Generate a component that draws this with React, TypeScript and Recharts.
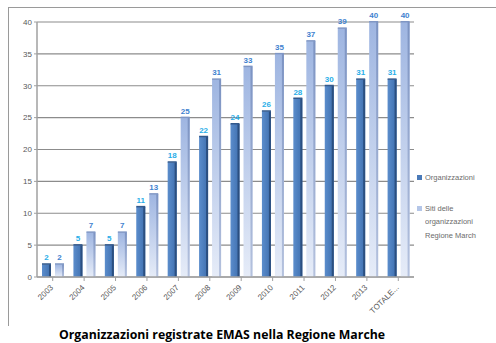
import React from "react";
import {
  BarChart,
  Bar,
  XAxis,
  YAxis,
  CartesianGrid,
  LabelList,
} from "recharts";

const categories = ["2003", "2004", "2005", "2006", "2007", "2008", "2009", "2010", "2011", "2012", "2013", "TOTALE..."];
const organizzazioni = [2, 5, 5, 11, 18, 22, 24, 26, 28, 30, 31, 31];
const siti = [2, 7, 7, 13, 25, 31, 33, 35, 37, 39, 40, 40];
const yTicks = [0, 5, 10, 15, 20, 25, 30, 35, 40];
const seriesNames = ["Organizzazioni", "Siti delle organizzazioni Regione Marche"];
const title = "Organizzazioni registrate EMAS nella Regione Marche";

const data = categories.map((c, i) => ({ cat: c, org: organizzazioni[i], siti: siti[i] }));

const FONT = "'Liberation Sans', Arial, sans-serif";

const DarkShape = (props: any) => {
  const { x, y, width, height } = props;
  if (!height || height <= 0) return null;
  return (
    <g>
      <rect x={x} y={y} width={width} height={height} fill="url(#gDark)" />
      <rect x={x + width - 2} y={y} width={2} height={height} fill="#2b4f80" />
      <rect x={x} y={y - 1} width={width} height={1.5} fill="#33598c" />
    </g>
  );
};

const LightShape = (props: any) => {
  const { x, y, width, height } = props;
  if (!height || height <= 0) return null;
  return (
    <g>
      <rect x={x} y={y} width={width} height={height} fill="url(#gLight)" />
      <rect x={x + width - 2} y={y} width={2} height={height} fill="url(#gLightEdge)" />
      <rect x={x} y={y - 1} width={width} height={1.5} fill="#7f96c4" />
    </g>
  );
};

const XTick = (props: any) => {
  const { x, y, payload } = props;
  return (
    <text
      x={x + 1}
      y={y + 5}
      transform={`rotate(-45, ${x + 1}, ${y + 5})`}
      textAnchor="end"
      fontSize={8}
      fontFamily={FONT}
      fill="#595959"
    >
      {payload.value}
    </text>
  );
};

export default function App() {
  return (
    <div style={{ position: "absolute", left: 0, top: 0, width: 496, height: 343, background: "#fff", overflow: "hidden" }}>
      <div style={{ position: "absolute", left: 8, top: 7, width: 500, height: 318, borderTop: "1px solid #9a9a9a", borderLeft: "1px solid #9a9a9a" }} />
      <div style={{ position: "absolute", left: 0, top: 0 }}>
        <BarChart
          width={496}
          height={343}
          data={data}
          margin={{ top: 22, right: 82, bottom: 36, left: 0 }}
          barGap={4}
          barSize={9}
        >
          <defs>
            <linearGradient id="gDark" x1="0" y1="0" x2="1" y2="0">
              <stop offset="0" stopColor="#5b8dcc" />
              <stop offset="1" stopColor="#3f6fae" />
            </linearGradient>
            <linearGradient id="gLight" x1="0" y1="0" x2="0" y2="1">
              <stop offset="0" stopColor="#9eb5e1" />
              <stop offset="1" stopColor="#e6ecf8" />
            </linearGradient>
            <linearGradient id="gLightEdge" x1="0" y1="0" x2="0" y2="1">
              <stop offset="0" stopColor="#7c93c2" />
              <stop offset="1" stopColor="#b5c2de" />
            </linearGradient>
          </defs>
          <CartesianGrid vertical={false} stroke="#8c8c8c" strokeWidth={1.2} />
          <XAxis
            dataKey="cat"
            interval={0}
            height={30}
            tick={<XTick />}
            tickLine={{ stroke: "#a0a0a0" }}
            axisLine={{ stroke: "#a0a0a0", strokeWidth: 1.5 }}
            tickSize={4}
          />
          <YAxis
            width={37}
            domain={[0, 40]}
            ticks={yTicks}
            interval={0}
            tick={{ fontSize: 8, fill: "#595959", fontFamily: FONT }}
            tickLine={{ stroke: "#a0a0a0" }}
            axisLine={{ stroke: "#a0a0a0", strokeWidth: 1.5 }}
            tickSize={3}
          />
          <Bar dataKey="org" name={seriesNames[0]} shape={<DarkShape />} isAnimationActive={false}>
            <LabelList dataKey="org" position="top" offset={4} fill="#29aee8" fontSize={8} fontWeight="bold" fontFamily={FONT} />
          </Bar>
          <Bar dataKey="siti" name={seriesNames[1]} shape={<LightShape />} isAnimationActive={false}>
            <LabelList dataKey="siti" position="top" offset={4} fill="#3f82cf" fontSize={8} fontWeight="bold" fontFamily={FONT} />
          </Bar>
        </BarChart>
      </div>
      <div style={{ position: "absolute", left: 417, top: 171, width: 79, fontFamily: FONT, fontSize: 7.5, color: "#6b6b6b", lineHeight: "13.5px" }}>
        <div style={{ display: "flex", alignItems: "flex-start" }}>
          <span style={{ display: "inline-block", width: 5, height: 5, background: "#4a7ab8", marginTop: 4, marginRight: 3 }} />
          <span>{seriesNames[0]}</span>
        </div>
        <div style={{ display: "flex", alignItems: "flex-start", marginTop: 17 }}>
          <span style={{ display: "inline-block", width: 5, height: 5, background: "#b4c6e8", marginTop: 4, marginRight: 3, flexShrink: 0 }} />
          <span style={{ width: 66, overflow: "hidden", whiteSpace: "nowrap" }}>
            Siti delle<br />organizzazioni<br />Regione March
          </span>
        </div>
      </div>
      <div
        style={{
          position: "absolute",
          left: 0,
          width: 444,
          top: 327,
          textAlign: "center",
          fontFamily: "'Open Sans', 'Liberation Sans', sans-serif",
          fontWeight: "bold",
          fontSize: 12.3,
          color: "#000",
          lineHeight: "15px",
          whiteSpace: "nowrap",
        }}
      >
        {title}
      </div>
    </div>
  );
}
